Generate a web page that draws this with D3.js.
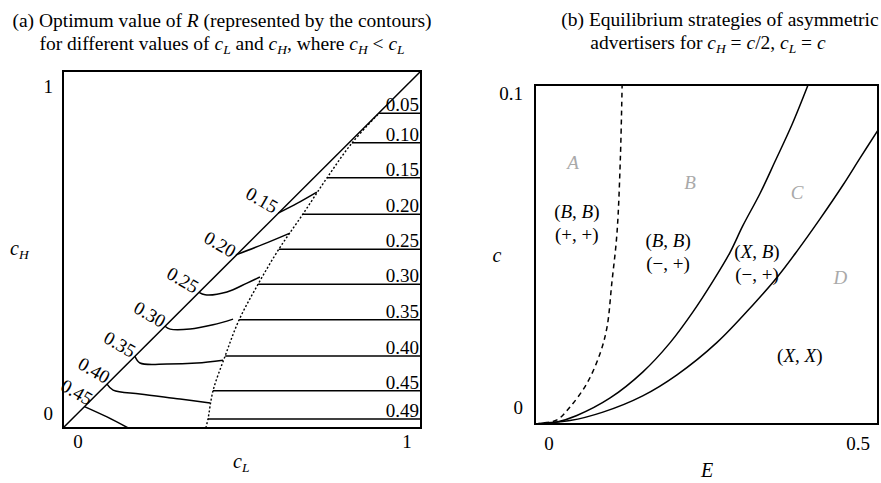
<!DOCTYPE html>
<html>
<head>
<meta charset="utf-8">
<script src="https://cdn.jsdelivr.net/npm/d3@7"></script>
<style>
  body { margin: 0; background: #fff; }
  text { font-family: "Liberation Serif", "Times New Roman", serif; fill: #000; }
</style>
</head>
<body>
<div id="grafico"></div>
<script>
// ---- panel (a) data: contours of optimum R ----
const levelsFlat = ["0.05", "0.10", "0.15", "0.20", "0.25", "0.30", "0.35", "0.40", "0.45", "0.49"];
const flatCH = [0.882, 0.799, 0.701, 0.599, 0.501, 0.403, 0.303, 0.202, 0.104, 0.025];
const flatStartCL = [0.883, 0.807, 0.737, 0.670, 0.603, 0.545, 0.492, 0.453, 0.419, 0.405];

const boundaryCL = [0.399, 0.405, 0.419, 0.453, 0.492, 0.545, 0.603, 0.670, 0.737, 0.807, 0.883];
const boundaryCH = [0, 0.025, 0.104, 0.202, 0.303, 0.403, 0.501, 0.599, 0.700, 0.798, 0.882];

const levelsBent = ["0.15", "0.20", "0.25", "0.30", "0.35", "0.40", "0.45"];
const bentCL = [
  [0.601, 0.655, 0.709],
  [0.483, 0.560, 0.634],
  [0.380, 0.397, 0.458, 0.514, 0.550],
  [0.285, 0.299, 0.355, 0.419, 0.475],
  [0.201, 0.215, 0.291, 0.374, 0.447],
  [0.123, 0.140, 0.215, 0.327, 0.411],
  [0.060, 0.123, 0.182]
];
const bentCH = [
  [0.602, 0.630, 0.661],
  [0.485, 0.515, 0.546],
  [0.380, 0.373, 0.381, 0.406, 0.423],
  [0.285, 0.277, 0.277, 0.289, 0.305],
  [0.201, 0.182, 0.179, 0.182, 0.190],
  [0.123, 0.106, 0.095, 0.081, 0.070],
  [0.060, 0.031, 0]
];
const bentLabelCL = [0.556, 0.439, 0.335, 0.243, 0.159, 0.087, 0.039];
const bentLabelCH = [0.639, 0.515, 0.415, 0.319, 0.235, 0.162, 0.101];

const ticksA = [0, 1];

// ---- panel (b) data: equilibrium regions ----
const dashedE = [0, 0.012, 0.032, 0.051, 0.076, 0.095, 0.105, 0.112, 0.1195, 0.1245, 0.127];
const dashedC = [0, 0.0003, 0.0012, 0.005, 0.0121, 0.0209, 0.0286, 0.0416, 0.0563, 0.0788, 0.1];

const midE = [0, 0.032, 0.061, 0.109, 0.157, 0.197, 0.230, 0.259, 0.284, 0.303, 0.328, 0.350, 0.375, 0.398];
const midC = [0, 0.0006, 0.0025, 0.0076, 0.0153, 0.0240, 0.0330, 0.0420, 0.0505, 0.0585, 0.0680, 0.0775, 0.0885, 0.1];

const rightE = [0, 0.012, 0.051, 0.099, 0.157, 0.207, 0.265, 0.318, 0.353, 0.382, 0.4155, 0.449, 0.474, 0.5];
const rightC = [0, 0.0003, 0.0010, 0.0035, 0.0083, 0.0145, 0.0240, 0.0352, 0.0433, 0.0510, 0.0605, 0.0705, 0.0785, 0.0867];

const regionNames = ["A", "B", "C", "D"];
const regionE = [0.0554, 0.226, 0.382, 0.445];
const regionC = [0.0773, 0.0714, 0.0684, 0.0434];

const stratTop = [["(", "B", ", ", "B", ")"], ["(", "B", ", ", "B", ")"], ["(", "X", ", ", "B", ")"], ["(", "X", ", ", "X", ")"]];
const stratBottom = ["(+, +)", "(\u2212, +)", "(\u2212, +)", ""];
const stratE = [0.061, 0.194, 0.3236, 0.386];
const stratC = [0.0608, 0.0522, 0.049, 0.0183];

const ticksBx = [0, 0.5];
const ticksBy = [0, 0.1];

// ---- layout ----
var ancho = 881, alto = 483;
var fa = { left: 63, right: 421, top: 71, bottom: 428 };
var fb = { left: 535, right: 878, top: 85, bottom: 424 };
var fsLabel = "19px", fsTitle = "19.5px";

var svg = d3.select("#grafico").append("svg")
  .attr("width", ancho).attr("height", alto);

// writes text pieces: [string, kind] kind: "" normal, "i" italic, "s" italic subscript
function rich(sel, parts) {
  var shift = 0;
  parts.forEach(function (p) {
    var t = sel.append("tspan").text(p[0]);
    if (p[1] === "i" || p[1] === "s") t.style("font-style", "italic");
    var want = p[1] === "s" ? 4 : 0;
    if (want !== shift) { t.attr("dy", want - shift); shift = want; }
    if (p[1] === "s") t.style("font-size", "13.5px");
  });
  return sel;
}

// ---- titles ----
function title(x, y, parts) {
  var t = svg.append("text").attr("x", x).attr("y", y)
    .attr("text-anchor", "middle").style("font-size", fsTitle);
  rich(t, parts);
}
title(222, 27, [["(a) Optimum value of ", ""], ["R", "i"], [" (represented by the contours)", ""]]);
title(222, 50, [["for different values of ", ""], ["c", "i"], ["L", "s"], [" and ", ""], ["c", "i"], ["H", "s"],
  [", where ", ""], ["c", "i"], ["H", "s"], [" < ", ""], ["c", "i"], ["L", "s"]]);
title(720, 26, [["(b) Equilibrium strategies of asymmetric", ""]]);
title(708, 49, [["advertisers for ", ""], ["c", "i"], ["H", "s"], [" = ", ""], ["c", "i"], ["/2, ", ""],
  ["c", "i"], ["L", "s"], [" = ", ""], ["c", "i"]]);

// ---- panel (a) ----
var xa = d3.scaleLinear().domain([0, 1]).range([fa.left, fa.right]);
var ya = d3.scaleLinear().domain([0, 1]).range([fa.bottom, fa.top]);

var defs = svg.append("defs");
defs.append("clipPath").attr("id", "clipA")
  .append("rect").attr("x", fa.left).attr("y", fa.top)
  .attr("width", fa.right - fa.left).attr("height", fa.bottom - fa.top);

var ga = svg.append("g").attr("clip-path", "url(#clipA)");

var lineA = d3.line().x(function (d) { return xa(d[0]); }).y(function (d) { return ya(d[1]); });
var curveA = d3.line().curve(d3.curveCatmullRom.alpha(0.5))
  .x(function (d) { return xa(d[0]); }).y(function (d) { return ya(d[1]); });

// diagonal c_H = c_L
ga.append("path").attr("d", lineA([[0, 0], [1, 1]]))
  .attr("fill", "none").attr("stroke", "#000").attr("stroke-width", 1.5);

// dotted boundary
ga.append("path").attr("d", curveA(d3.zip(boundaryCL, boundaryCH)))
  .attr("fill", "none").attr("stroke", "#000").attr("stroke-width", 1.4)
  .attr("stroke-dasharray", "2,2");

// flat contour pieces
ga.selectAll(".flat").data(levelsFlat).enter().append("line")
  .attr("class", "flat")
  .attr("x1", function (d, i) { return xa(flatStartCL[i]); })
  .attr("x2", xa(1))
  .attr("y1", function (d, i) { return ya(flatCH[i]); })
  .attr("y2", function (d, i) { return ya(flatCH[i]); })
  .attr("stroke", "#000").attr("stroke-width", 1.5);

svg.selectAll(".flatlab").data(levelsFlat).enter().append("text")
  .attr("class", "flatlab")
  .attr("x", xa(1) - 2)
  .attr("y", function (d, i) { return ya(flatCH[i]) - 2; })
  .attr("text-anchor", "end").style("font-size", fsLabel)
  .text(function (d) { return d; });

// bent contour pieces
ga.selectAll(".bent").data(levelsBent).enter().append("path")
  .attr("class", "bent")
  .attr("d", function (d, i) { return curveA(d3.zip(bentCL[i], bentCH[i])); })
  .attr("fill", "none").attr("stroke", "#000").attr("stroke-width", 1.5);

svg.selectAll(".bentlab").data(levelsBent).enter().append("text")
  .attr("class", "bentlab")
  .attr("transform", function (d, i) {
    return "translate(" + xa(bentLabelCL[i]) + "," + ya(bentLabelCH[i]) + ") rotate(30)";
  })
  .attr("text-anchor", "middle").attr("dy", "0.35em").style("font-size", fsLabel)
  .text(function (d) { return d; });

svg.append("rect").attr("x", fa.left).attr("y", fa.top)
  .attr("width", fa.right - fa.left).attr("height", fa.bottom - fa.top)
  .attr("fill", "none").attr("stroke", "#000").attr("stroke-width", 2);

// tick labels sit inside the corners
svg.selectAll(".txa").data(ticksA).enter().append("text")
  .attr("class", "txa")
  .attr("x", function (d) { return xa(d) + (d === 0 ? 15 : -14); })
  .attr("y", fa.bottom + 20)
  .attr("text-anchor", "middle").style("font-size", fsLabel)
  .text(function (d) { return d; });
svg.selectAll(".tya").data(ticksA).enter().append("text")
  .attr("class", "tya")
  .attr("x", fa.left - 10)
  .attr("y", function (d) { return ya(d) + (d === 0 ? -8 : 22); })
  .attr("text-anchor", "end").style("font-size", fsLabel)
  .text(function (d) { return d; });

rich(svg.append("text").attr("x", 10).attr("y", 255).style("font-size", "20px"), [["c", "i"], ["H", "s"]]);
rich(svg.append("text").attr("x", 233).attr("y", 468).style("font-size", "20px"), [["c", "i"], ["L", "s"]]);

// ---- panel (b) ----
var xb = d3.scaleLinear().domain([0, 0.5]).range([fb.left, fb.right]);
var yb = d3.scaleLinear().domain([0, 0.1]).range([fb.bottom, fb.top]);

defs.append("clipPath").attr("id", "clipB")
  .append("rect").attr("x", fb.left).attr("y", fb.top)
  .attr("width", fb.right - fb.left).attr("height", fb.bottom - fb.top);

var gb = svg.append("g").attr("clip-path", "url(#clipB)");
var curveB = d3.line().curve(d3.curveCatmullRom.alpha(0.5))
  .x(function (d) { return xb(d[0]); }).y(function (d) { return yb(d[1]); });

gb.append("path").attr("d", curveB(d3.zip(dashedE, dashedC)))
  .attr("fill", "none").attr("stroke", "#000").attr("stroke-width", 1.5)
  .attr("stroke-dasharray", "5,4");
gb.append("path").attr("d", curveB(d3.zip(midE, midC)))
  .attr("fill", "none").attr("stroke", "#000").attr("stroke-width", 1.5);
gb.append("path").attr("d", curveB(d3.zip(rightE, rightC)))
  .attr("fill", "none").attr("stroke", "#000").attr("stroke-width", 1.5);

svg.append("rect").attr("x", fb.left).attr("y", fb.top)
  .attr("width", fb.right - fb.left).attr("height", fb.bottom - fb.top)
  .attr("fill", "none").attr("stroke", "#000").attr("stroke-width", 2);

svg.selectAll(".region").data(regionNames).enter().append("text")
  .attr("class", "region")
  .attr("x", function (d, i) { return xb(regionE[i]); })
  .attr("y", function (d, i) { return yb(regionC[i]); })
  .attr("text-anchor", "middle").attr("dy", "0.35em")
  .style("font-size", fsLabel).style("font-style", "italic").style("fill", "#a9a9a9")
  .text(function (d) { return d; });

stratTop.forEach(function (parts, i) {
  var t = svg.append("text").attr("x", xb(stratE[i])).attr("y", yb(stratC[i]))
    .attr("text-anchor", "middle").style("font-size", fsLabel);
  rich(t, parts.map(function (s) { return [s, /^[A-Z]$/.test(s) ? "i" : ""]; }));
  if (stratBottom[i]) {
    svg.append("text").attr("x", xb(stratE[i])).attr("y", yb(stratC[i]) + 23)
      .attr("text-anchor", "middle").style("font-size", fsLabel)
      .text(stratBottom[i]);
  }
});

svg.selectAll(".txb").data(ticksBx).enter().append("text")
  .attr("class", "txb")
  .attr("x", function (d) { return xb(d) + (d === 0 ? 14 : -20); })
  .attr("y", fb.bottom + 26)
  .attr("text-anchor", "middle").style("font-size", fsLabel)
  .text(function (d) { return d; });
svg.selectAll(".tyb").data(ticksBy).enter().append("text")
  .attr("class", "tyb")
  .attr("x", fb.left - 12)
  .attr("y", function (d) { return yb(d) + (d === 0 ? -10 : 15); })
  .attr("text-anchor", "end").style("font-size", fsLabel)
  .text(function (d) { return d; });

svg.append("text").attr("x", 497).attr("y", 262).attr("text-anchor", "middle")
  .style("font-size", "20px").style("font-style", "italic").text("c");
svg.append("text").attr("x", 707).attr("y", 477).attr("text-anchor", "middle")
  .style("font-size", "20px").style("font-style", "italic").text("E");
</script>
</body>
</html>
